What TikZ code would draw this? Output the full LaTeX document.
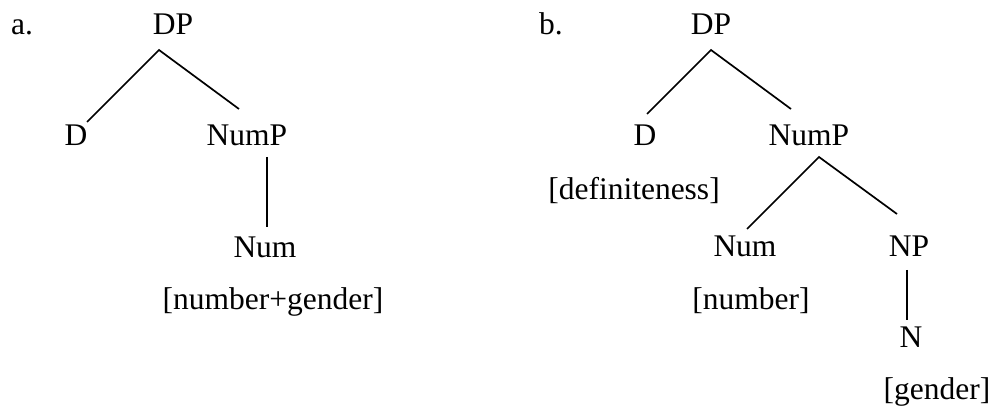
\documentclass[tikz,border=0pt]{standalone}
\usepackage{fontspec}
\setmainfont{Liberation Serif}
\begin{document}
\begin{tikzpicture}[x=1pt,y=-1pt,
  lbl/.style={anchor=base,inner sep=0pt,font=\fontsize{31.5}{36}\selectfont},
  edge/.style={line width=1.7pt}]
\useasboundingbox (0,0) rectangle (994,411);
% panel a
\node[lbl,anchor=base west] (la) at (11,35) {a.};
\node[lbl] (DPa) at (173,35) {DP};
\node[lbl] (Da) at (76,146) {D};
\node[lbl] (NumPa) at (247,146) {NumP};
\node[lbl] (Numa) at (265,258) {Num};
\node[lbl] (fa) at (273,310) {[number+gender]};
\coordinate (a1) at (159,50);
\coordinate (a2) at (87,122);
\coordinate (a3) at (239,109);
\coordinate (a4) at (267,157);
\coordinate (a5) at (267,227);
\draw[edge] (a2) -- (a1) -- (a3);
\draw[edge] (a4) -- (a5);
% panel b
\node[lbl,anchor=base west] (lb) at (539,35) {b.};
\node[lbl] (DPb) at (711,35) {DP};
\node[lbl] (Db) at (645,146) {D};
\node[lbl] (NumPb) at (809,146) {NumP};
\node[lbl] (fd) at (634,200) {[definiteness]};
\node[lbl] (Numb) at (745,257) {Num};
\node[lbl] (NPb) at (909,257) {NP};
\node[lbl] (fn) at (751,310) {[number]};
\node[lbl] (Nb) at (911,348) {N};
\node[lbl] (fg) at (937,400) {[gender]};
\coordinate (b1) at (711,50);
\coordinate (b2) at (647,114);
\coordinate (b3) at (791,109);
\coordinate (b4) at (819,157);
\coordinate (b5) at (747,229);
\coordinate (b6) at (897,214);
\coordinate (b7) at (907,270);
\coordinate (b8) at (907,320);
\draw[edge] (b2) -- (b1) -- (b3);
\draw[edge] (b5) -- (b4) -- (b6);
\draw[edge] (b7) -- (b8);
\end{tikzpicture}
\end{document}
